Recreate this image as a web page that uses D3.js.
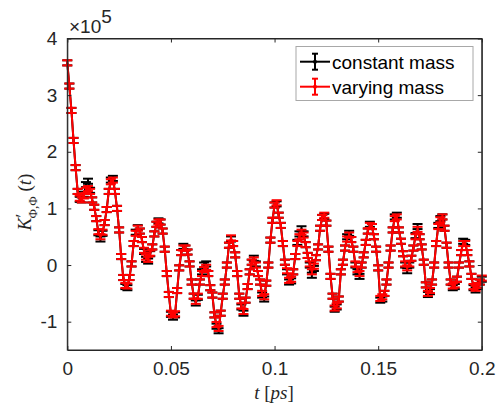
<!DOCTYPE html>
<html>
  <head>
    <meta charset="UTF-8" />
    <style>
      body { margin: 0; background: #fff; }
      svg { display: block; }
      .tick text { font-family: "Liberation Sans", Arial, sans-serif; font-size: 19px; fill: #262626; }
    </style>
  </head>
  <body>
    <svg></svg>
    <script src="https://d3js.org/d3.v7.min.js"></script>
    <script>
      // time step 0.001 ps, 201 samples, values in units of 1e5
      const dt = 0.001;
      const redVals = [
        3.57, 3.16, 2.73, 2.2, 1.72, 1.3, 1.18, 1.15, 1.22, 1.32,
        1.35, 1.3, 1.15, 1.02, 0.82, 0.59, 0.5, 0.58, 0.75, 0.98,
        1.3, 1.47, 1.5, 1.3, 1.0, 0.62, 0.15, -0.22, -0.36, -0.37,
        -0.22, 0.02, 0.38, 0.56, 0.65, 0.6, 0.45, 0.26, 0.14, 0.1,
        0.21, 0.32, 0.55, 0.72, 0.76, 0.76, 0.6, 0.28, -0.15, -0.52,
        -0.85, -0.88, -0.86, -0.45, -0.05, 0.22, 0.3, 0.3, 0.23, 0.02,
        -0.3, -0.55, -0.64, -0.55, -0.3, -0.15, -0.08, -0.04, -0.15, -0.4,
        -0.53, -0.88, -1.05, -1.12, -0.85, -0.55, -0.3, 0.0, 0.35, 0.48,
        0.38, 0.18, -0.15, -0.55, -0.72, -0.82, -0.62, -0.38, -0.12, 0.05,
        0.09, 0.0, -0.15, -0.3, -0.5, -0.56, -0.32, 0.0, 0.44, 0.79,
        1.06, 1.1, 0.88, 0.7, 0.38, 0.05, -0.1, -0.27, -0.25, -0.12,
        0.15, 0.38, 0.5, 0.58, 0.53, 0.36, 0.17, 0.02, -0.12, -0.02,
        0.13, 0.32, 0.65, 0.84, 0.88, 0.74, 0.28, -0.2, -0.55, -0.76,
        -0.72, -0.6, -0.12, 0.05, 0.3, 0.46, 0.53, 0.45, 0.28, 0.02,
        -0.08, -0.15, 0.0, 0.18, 0.4, 0.6, 0.7, 0.68, 0.5, 0.28,
        -0.05, -0.59, -0.56, -0.5, -0.3, 0.0, 0.3, 0.62, 0.82, 0.85,
        0.62, 0.42, 0.2, 0.02, -0.05, 0.02, 0.12, 0.3, 0.5, 0.63,
        0.5, 0.32, 0.05, -0.35, -0.5, -0.45, -0.3, 0.0, 0.38, 0.68,
        0.8, 0.85, 0.65, 0.35, 0.0, -0.3, -0.37, -0.35, -0.25, 0.0,
        0.22, 0.38, 0.38, 0.22, 0.02, -0.2, -0.38, -0.41, -0.36, -0.3,
        -0.23
      ];
      const blackVals = [
        3.57, 3.16, 2.73, 2.2, 1.72, 1.3, 1.16, 1.15, 1.25, 1.42,
        1.48, 1.32, 1.15, 1.02, 0.82, 0.57, 0.46, 0.56, 0.75, 0.98,
        1.3, 1.5, 1.53, 1.3, 1.0, 0.62, 0.15, -0.22, -0.38, -0.4,
        -0.22, 0.02, 0.38, 0.58, 0.66, 0.6, 0.45, 0.24, 0.1, 0.07,
        0.2, 0.32, 0.55, 0.72, 0.78, 0.76, 0.6, 0.28, -0.15, -0.52,
        -0.87, -0.92, -0.88, -0.45, -0.05, 0.22, 0.33, 0.3, 0.23, 0.02,
        -0.3, -0.55, -0.67, -0.57, -0.3, -0.12, 0.0, 0.02, -0.15, -0.4,
        -0.53, -0.88, -1.08, -1.16, -0.85, -0.55, -0.3, 0.0, 0.35, 0.46,
        0.38, 0.18, -0.15, -0.55, -0.74, -0.85, -0.62, -0.38, -0.12, 0.05,
        0.12, 0.02, -0.15, -0.3, -0.53, -0.6, -0.32, 0.0, 0.44, 0.79,
        1.06, 1.08, 0.88, 0.7, 0.38, 0.05, -0.12, -0.3, -0.28, -0.12,
        0.15, 0.4, 0.55, 0.64, 0.55, 0.36, 0.17, 0.0, -0.18, -0.06,
        0.13, 0.32, 0.65, 0.84, 0.86, 0.74, 0.28, -0.2, -0.55, -0.78,
        -0.74, -0.6, -0.12, 0.05, 0.3, 0.5, 0.56, 0.45, 0.28, 0.0,
        -0.12, -0.2, 0.0, 0.18, 0.4, 0.6, 0.72, 0.68, 0.5, 0.28,
        -0.05, -0.62, -0.6, -0.5, -0.3, 0.0, 0.3, 0.62, 0.85, 0.88,
        0.62, 0.42, 0.2, 0.0, -0.1, 0.0, 0.12, 0.3, 0.52, 0.68,
        0.5, 0.32, 0.05, -0.35, -0.52, -0.47, -0.3, 0.0, 0.38, 0.7,
        0.82, 0.85, 0.65, 0.35, 0.0, -0.3, -0.4, -0.38, -0.25, 0.0,
        0.22, 0.42, 0.4, 0.22, 0.02, -0.2, -0.4, -0.44, -0.38, -0.3,
        -0.25
      ];
      const errHalf = 0.045; // half error bar, 1e5 units
      const xTicks = [0, 0.05, 0.1, 0.15, 0.2];
      const yTicks = [-1, 0, 1, 2, 3, 4];
      const seriesNames = ["constant mass", "varying mass"];
      const seriesColors = ["#000000", "#ff0000"];

      const width = 498, height = 404;
      const svg = d3.select("svg").attr("width", width).attr("height", height);
      svg.append("rect").attr("width", width).attr("height", height).attr("fill", "#fff");

      const x = d3.scaleLinear().domain([0, 0.2]).range([67.3, 481.8]);
      const y = d3.scaleLinear().domain([-1.5, 4]).range([350, 38.5]);
      const axisColor = "#262626";

      // data series
      const series = [blackVals, redVals].map((vals, i) => ({
        name: seriesNames[i],
        color: seriesColors[i],
        points: vals.map((v, k) => ({ t: k * dt, v: v })),
      }));

      const line = d3.line().x((d) => x(d.t)).y((d) => y(d.v));
      const capW = 5;

      series.forEach((s) => {
        const g = svg.append("g");
        g.append("path")
          .datum(s.points)
          .attr("fill", "none")
          .attr("stroke", s.color)
          .attr("stroke-width", 2)
          .attr("d", line);
        const eb = g.selectAll("g.eb").data(s.points).join("g").attr("class", "eb");
        eb.append("line")
          .attr("x1", (d) => x(d.t)).attr("x2", (d) => x(d.t))
          .attr("y1", (d) => y(d.v - errHalf)).attr("y2", (d) => y(d.v + errHalf))
          .attr("stroke", s.color).attr("stroke-width", 2);
        eb.append("line")
          .attr("x1", (d) => x(d.t) - capW).attr("x2", (d) => x(d.t) + capW)
          .attr("y1", (d) => y(d.v + errHalf)).attr("y2", (d) => y(d.v + errHalf))
          .attr("stroke", s.color).attr("stroke-width", 2);
        eb.append("line")
          .attr("x1", (d) => x(d.t) - capW).attr("x2", (d) => x(d.t) + capW)
          .attr("y1", (d) => y(d.v - errHalf)).attr("y2", (d) => y(d.v - errHalf))
          .attr("stroke", s.color).attr("stroke-width", 2);
      });

      // axes (box with inward ticks on all sides)
      const tickLen = 4;
      const axBottom = svg.append("g").attr("transform", "translate(0,350)")
        .call(d3.axisBottom(x).tickValues(xTicks).tickSizeInner(-tickLen).tickSizeOuter(0).tickPadding(12).tickFormat(d3.format("")));
      const axTop = svg.append("g").attr("transform", "translate(0,38.5)")
        .call(d3.axisTop(x).tickValues(xTicks).tickSizeInner(-tickLen).tickSizeOuter(0).tickFormat(""));
      const axLeft = svg.append("g").attr("transform", "translate(67.3,0)")
        .call(d3.axisLeft(y).tickValues(yTicks).tickSizeInner(-tickLen).tickSizeOuter(0).tickPadding(10).tickFormat(d3.format("")));
      const axRight = svg.append("g").attr("transform", "translate(481.8,0)")
        .call(d3.axisRight(y).tickValues(yTicks).tickSizeInner(-tickLen).tickSizeOuter(0).tickFormat(""));
      [axBottom, axTop, axLeft, axRight].forEach((a) => {
        a.select(".domain").attr("stroke", axisColor).attr("stroke-width", 1);
        a.selectAll(".tick line").attr("stroke", axisColor);
      });
      axLeft.selectAll(".tick text").text((d) => (d < 0 ? "-" + Math.abs(d) : d));
      svg.append("rect")
        .attr("x", 67.3).attr("y", 38.5)
        .attr("width", 481.8 - 67.3).attr("height", 350 - 38.5)
        .attr("fill", "none").attr("stroke", axisColor).attr("stroke-width", 1);

      // exponent label
      const expo = svg.append("text")
        .attr("x", 69).attr("y", 33)
        .attr("font-family", "Liberation Sans, Arial, sans-serif")
        .attr("font-size", 19).attr("fill", axisColor);
      expo.append("tspan").text("\u00d710");
      expo.append("tspan").attr("dy", -10).text("5");

      // axis labels
      const xl = svg.append("text")
        .attr("x", 274).attr("y", 399)
        .attr("text-anchor", "middle")
        .attr("font-family", "Liberation Serif, serif")
        .attr("font-size", 19).attr("fill", axisColor);
      xl.append("tspan").attr("font-style", "italic").text("t");
      xl.append("tspan").text(" [");
      xl.append("tspan").attr("font-style", "italic").text("ps");
      xl.append("tspan").text("]");

      const yl = svg.append("text")
        .attr("transform", "translate(31,202) rotate(-90)")
        .attr("text-anchor", "middle")
        .attr("font-family", "Liberation Serif, serif")
        .attr("font-size", 19).attr("fill", axisColor);
      yl.append("tspan").attr("font-style", "italic").text("K");
      yl.append("tspan").attr("font-size", 19).attr("dy", -2).text("\u2032");
      yl.append("tspan").attr("font-size", 13).attr("dy", 8).attr("dx", -5).text("\u03a6,\u03a6");
      yl.append("tspan").attr("dy", -6).text(" (");
      yl.append("tspan").attr("font-style", "italic").text("t");
      yl.append("tspan").text(")");

      // legend
      const lg = svg.append("g");
      lg.append("rect")
        .attr("x", 296).attr("y", 46.5).attr("width", 177).attr("height", 54)
        .attr("fill", "#fff").attr("stroke", "#a8a8a8").attr("stroke-width", 1);
      series.forEach((s, i) => {
        const cy = 61.7 + i * 25;
        const row = lg.append("g");
        row.append("line").attr("x1", 300).attr("x2", 330).attr("y1", cy).attr("y2", cy)
          .attr("stroke", s.color).attr("stroke-width", 2);
        row.append("line").attr("x1", 315).attr("x2", 315).attr("y1", cy - 8).attr("y2", cy + 8)
          .attr("stroke", s.color).attr("stroke-width", 2);
        row.append("line").attr("x1", 312).attr("x2", 318).attr("y1", cy - 8).attr("y2", cy - 8)
          .attr("stroke", s.color).attr("stroke-width", 2);
        row.append("line").attr("x1", 312).attr("x2", 318).attr("y1", cy + 8).attr("y2", cy + 8)
          .attr("stroke", s.color).attr("stroke-width", 2);
        row.append("circle").attr("cx", 315).attr("cy", cy).attr("r", 2).attr("fill", s.color);
        row.append("text").attr("x", 332).attr("y", cy + 7)
          .attr("font-family", "Liberation Sans, Arial, sans-serif")
          .attr("font-size", 19).attr("fill", "#000").text(s.name);
      });
    </script>
  </body>
</html>
